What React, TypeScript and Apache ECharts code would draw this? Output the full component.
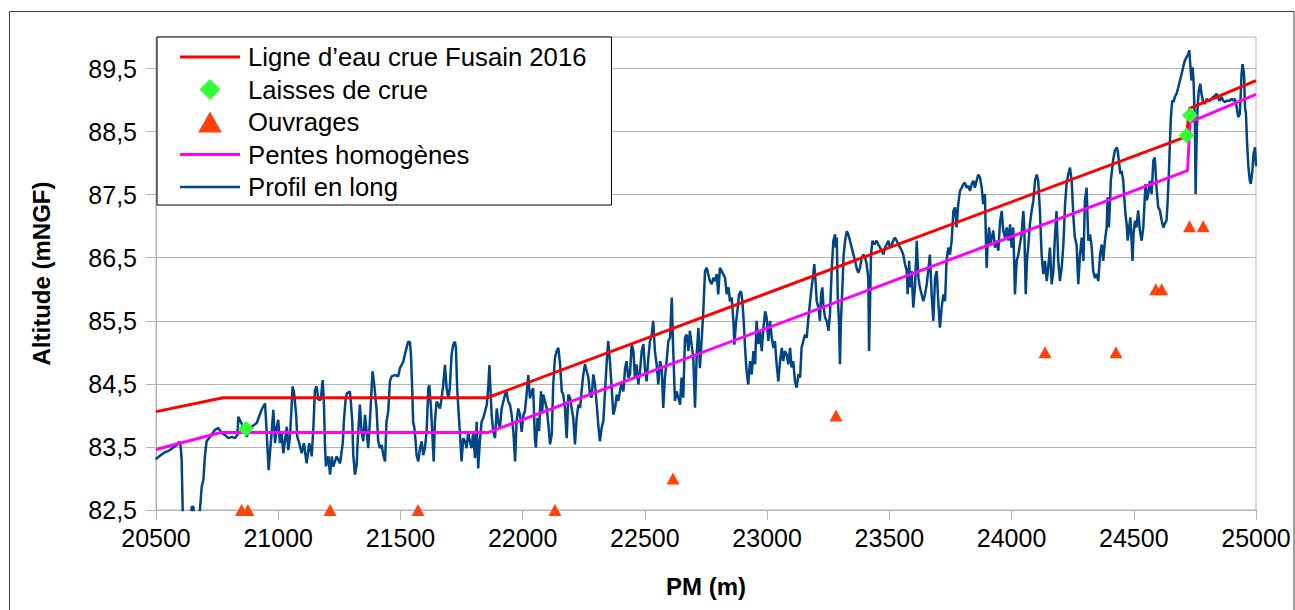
import React, { useEffect, useRef } from "react";
import * as echarts from "echarts";

const FONT = "'Liberation Sans', Arial, sans-serif";

// Ligne d'eau crue Fusain 2016
const redPM = [20500, 20775, 21855, 24715, 24728, 25000];
const redZ = [84.06, 84.28, 84.28, 88.42, 88.87, 89.31];

// Pentes homogènes
const magPM = [20500, 20765, 21860, 24720, 24730, 25000];
const magZ = [83.46, 83.73, 83.73, 87.88, 88.65, 89.09];

// Laisses de crue
const laissePM = [20868, 24716, 24730];
const laisseZ = [83.79, 88.44, 88.76];

// Ouvrages
const ouvPM = [20850, 20876, 21212, 21572, 22132, 22615, 23282, 24137, 24427, 24590, 24614, 24728, 24784];
const ouvZ = [82.5, 82.5, 82.5, 82.5, 82.5, 83.0, 84.0, 85.0, 85.0, 86.0, 86.0, 87.0, 87.0];

// Profil en long
const profilePM = [
  20500, 20503, 20530, 20557, 20585, 20595, 20601, 20605, 20609, 20612, 20625, 20640, 20646, 20653, 20660, 20677, 20683, 20687, 20694, 20700,
  20707, 20721, 20741, 20755, 20769, 20782, 20796, 20810, 20823, 20833, 20837, 20846, 20857, 20871, 20878, 20885, 20912, 20932, 20946, 20950,
  20955, 20961, 20966, 20973, 20980, 20987, 20994, 21000, 21007, 21014, 21021, 21028, 21035, 21041, 21048, 21059, 21065, 21073, 21078, 21086,
  21096, 21105, 21116, 21127, 21137, 21144, 21150, 21157, 21164, 21174, 21182, 21187, 21191, 21195, 21205, 21212, 21219, 21225, 21239, 21253,
  21264, 21269,
  21276, 21281, 21293, 21297, 21303, 21307, 21314, 21321, 21325, 21330, 21334, 21341, 21348, 21355, 21362, 21368, 21375, 21382, 21386, 21393,
  21402, 21409, 21416, 21423, 21430, 21437, 21443, 21450, 21457, 21464, 21477, 21491, 21498, 21505, 21512, 21518, 21525, 21532, 21539, 21543,
  21548, 21552, 21557, 21562, 21566, 21573, 21580, 21587, 21593, 21600, 21607, 21614, 21618, 21625, 21630, 21636, 21641, 21648, 21655, 21662,
  21668, 21675, 21682, 21689, 21696, 21702, 21709, 21716, 21723, 21727, 21732, 21737, 21743, 21750, 21757, 21764, 21771, 21777, 21784, 21791,
  21798, 21805, 21812, 21818, 21825, 21832, 21839, 21846, 21853, 21859, 21864, 21868, 21873, 21880, 21887, 21894, 21900, 21907, 21914, 21921,
  21928, 21934, 21941, 21948, 21955, 21962, 21969, 21975, 21982, 21989, 21996, 22003, 22009, 22016, 22023, 22030, 22037, 22043,
  22050, 22054, 22061, 22067, 22075, 22080, 22084, 22091, 22098, 22105, 22112, 22119, 22125, 22132, 22139, 22146, 22153, 22160, 22166, 22173,
  22180, 22187, 22194, 22200, 22207, 22214, 22221, 22228, 22235, 22241, 22248, 22255, 22262, 22269, 22275, 22282, 22289, 22296, 22303, 22309,
  22316, 22323, 22330, 22337, 22344, 22350, 22357, 22364, 22371, 22378, 22385, 22391, 22398, 22405, 22412, 22419, 22425, 22432, 22439, 22446,
  22453, 22459, 22466, 22473, 22480, 22487, 22494, 22500, 22507, 22514, 22521, 22528, 22534, 22541, 22548, 22555, 22562, 22569, 22575, 22582,
  22589, 22596, 22603, 22610, 22616, 22623, 22630, 22637, 22644, 22650, 22657, 22664, 22671, 22678, 22684, 22691, 22698, 22705, 22712, 22719,
  22725, 22732, 22739, 22746, 22753, 22759, 22766, 22773, 22780, 22787, 22794, 22800, 22807, 22814, 22828,
  22835, 22842, 22848, 22855, 22862, 22866, 22872, 22880, 22885, 22893, 22899, 22904, 22910, 22914, 22919, 22923, 22930, 22937, 22944, 22951,
  22957, 22964, 22971, 22978, 22985, 22992, 22998, 23005, 23012, 23019, 23026, 23032, 23039, 23046, 23053, 23060, 23066, 23073, 23080, 23087,
  23094, 23100, 23107, 23114, 23121, 23128, 23135, 23141, 23148, 23155, 23162, 23169, 23176, 23182, 23189, 23193, 23199, 23203, 23210, 23216,
  23221, 23226, 23230, 23237, 23244, 23251, 23257, 23264, 23271, 23278, 23281, 23285, 23289, 23294, 23298, 23302, 23308, 23313, 23319, 23326,
  23332, 23339, 23346, 23353, 23360, 23366, 23373, 23380, 23387, 23394, 23401, 23407, 23414, 23417, 23421, 23425, 23431, 23439, 23448, 23455,
  23462, 23469, 23476, 23482, 23489, 23496, 23503, 23510, 23516, 23523, 23530, 23537, 23544, 23551, 23557, 23564, 23571, 23575, 23581, 23585,
  23591, 23598, 23605,
  23612, 23619, 23625, 23632, 23639, 23646, 23653, 23659, 23666, 23673, 23680, 23687, 23694, 23700, 23707, 23714, 23721, 23728, 23734, 23741,
  23748, 23755, 23762, 23769, 23775, 23782, 23789, 23796, 23803, 23809, 23816, 23823, 23830, 23837, 23844, 23850, 23857, 23864, 23871, 23878,
  23884, 23891, 23895, 23898, 23902, 23908, 23913, 23919, 23925, 23932, 23939, 23946, 23953, 23960, 23966, 23973, 23980, 23987, 23994, 24000,
  24007, 24014, 24021, 24028, 24034, 24041, 24048, 24052, 24058, 24063, 24069, 24075, 24082, 24089, 24096, 24103, 24109, 24116, 24123, 24130,
  24137, 24144, 24150, 24157, 24164, 24171, 24178, 24184, 24191, 24198, 24205, 24212, 24219, 24225, 24232, 24239, 24246, 24253, 24259, 24266,
  24273, 24280, 24287, 24294, 24300, 24307, 24314, 24321, 24328, 24334, 24341, 24348, 24355, 24362, 24369, 24375, 24382,
  24389, 24393, 24398, 24402, 24406, 24412, 24417, 24423, 24430, 24434, 24439, 24445, 24450, 24457, 24461, 24466, 24471, 24475, 24480, 24486,
  24491, 24495, 24499, 24505, 24511, 24518, 24525, 24532, 24539, 24543, 24548, 24554, 24559, 24566, 24573, 24580, 24586, 24593, 24600, 24607,
  24614, 24621, 24627, 24634, 24638, 24644, 24648, 24652, 24657, 24663, 24668, 24675, 24682, 24689, 24696, 24702, 24709, 24716, 24723, 24727,
  24732, 24736, 24741, 24745, 24750, 24753, 24757, 24761, 24766, 24772, 24777, 24784, 24791, 24798, 24805, 24811, 24818, 24825, 24832, 24839,
  24846, 24852, 24859, 24866, 24873, 24880, 24887, 24893, 24900, 24907, 24914, 24921, 24927, 24934, 24941, 24945, 24951, 24955, 24959, 24963,
  24969, 24975, 24979, 24985, 24990, 24996, 25000,
];
const profileZ = [
  83.30, 83.32, 83.40, 83.45, 83.53, 83.58, 83.51, 83.29, 82.53, 82.30, 82.00, 82.10, 82.55, 82.55, 82.20, 82.39, 82.66, 82.87, 82.98, 83.35,
  83.59, 83.66, 83.77, 83.80, 83.72, 83.69, 83.64, 83.66, 83.64, 83.69, 83.98, 83.90, 83.82, 83.66, 83.74, 83.80, 83.88, 84.09, 84.19, 83.93,
  83.56, 83.13, 83.40, 83.72, 84.09, 83.56, 83.82, 83.93, 83.56, 83.72, 83.40, 83.61, 83.82, 83.45, 83.66, 84.46, 84.35, 84.03, 83.66, 83.56,
  83.40, 83.56, 83.24, 83.56, 83.35, 83.82, 84.40, 84.46, 84.25, 84.25, 84.56, 84.19, 83.56, 83.19, 83.35, 83.06, 83.35, 83.19, 83.35, 83.24,
  83.56, 83.93,
  84.27, 84.35, 84.38, 84.22, 83.90, 83.37, 83.06, 83.22, 83.59, 83.90, 84.17, 83.74, 83.59, 84.01, 83.74, 83.48, 83.90, 84.43, 84.70, 84.48,
  84.11, 83.59, 83.48, 83.53, 83.37, 83.27, 83.90, 84.06, 84.54, 84.62, 84.64, 84.62, 84.75, 84.80, 84.86, 84.96, 85.07, 85.17, 85.16, 84.96,
  84.43, 83.90, 83.80, 83.59, 83.37, 83.27, 83.48, 83.59, 83.37, 83.48, 83.74, 84.43, 84.48, 84.11, 83.74, 83.27, 83.90, 84.22, 84.17, 84.11,
  84.27, 84.48, 84.80, 84.43, 84.27, 84.43, 84.96, 85.12, 85.17, 85.07, 84.43, 84.11, 83.74, 83.27, 83.64, 83.59, 83.48, 83.74, 83.59, 83.48,
  83.74, 83.32, 83.90, 83.16, 83.59, 83.90, 83.96, 84.06, 84.17, 84.43, 84.80, 84.43, 84.01, 83.74, 83.64, 84.11, 83.90, 83.80, 84.11, 84.22,
  84.33, 84.38, 84.22, 84.17, 84.01, 83.74, 83.27, 83.90, 84.11, 84.01, 83.74, 84.01, 84.06, 84.33, 84.64, 84.27, 84.38, 84.43,
  83.64, 83.49, 83.96, 83.75, 84.38, 84.07, 84.33, 84.23, 84.12, 83.86, 83.54, 83.70, 84.49, 84.91, 85.02, 85.07, 84.81, 84.38, 84.33, 84.12,
  83.64, 84.33, 84.28, 84.12, 83.96, 83.54, 83.96, 84.17, 84.12, 84.38, 84.65, 84.81, 84.70, 84.60, 84.33, 84.28, 84.65, 84.49, 84.17, 83.86,
  83.59, 83.80, 83.91, 84.38, 84.86, 85.18, 84.86, 84.44, 84.01, 84.12, 84.33, 84.23, 84.38, 84.54, 84.38, 84.75, 84.86, 84.60, 84.65, 85.13,
  85.02, 84.60, 84.81, 84.49, 84.70, 85.02, 85.13, 84.75, 84.54, 84.91, 85.18, 85.28, 85.50, 85.02, 84.81, 84.49, 84.86, 84.75, 84.12, 84.60,
  84.86, 85.18, 85.23, 85.87, 85.02, 84.23, 84.38, 84.28, 84.17, 84.60, 84.28, 85.23, 85.28, 85.02, 85.34, 85.13, 84.91, 84.12, 84.97, 85.39,
  84.75, 85.18, 85.65, 86.29, 86.34, 86.24, 86.13, 86.08, 86.18, 86.13, 86.24, 85.92, 86.34, 86.29, 86.18,
  85.92, 86.03, 85.81, 85.87, 85.50, 85.12, 85.44, 85.71, 85.92, 85.97, 85.81, 85.50, 85.07, 84.81, 84.60, 84.49, 84.86, 84.65, 85.02, 84.81,
  85.50, 85.13, 85.34, 85.02, 85.39, 85.65, 85.55, 85.18, 85.50, 85.23, 85.07, 85.18, 84.81, 84.54, 84.86, 85.07, 84.86, 85.02, 84.97, 84.81,
  85.07, 84.76, 84.86, 84.54, 84.44, 84.65, 84.60, 85.07, 85.18, 85.28, 85.23, 85.55, 85.81, 86.03, 86.24, 86.40, 86.08, 85.81, 85.71, 85.50,
  85.92, 86.03, 85.76, 85.55, 85.50, 85.34, 85.60, 86.29, 86.77, 86.87, 86.66, 86.82, 85.87, 85.50, 84.81, 85.50, 86.03, 86.55, 86.77, 86.92,
  86.87, 86.77, 86.66, 86.55, 86.45, 86.34, 86.26, 86.34, 86.50, 86.55, 86.50, 86.40, 86.18, 85.02, 85.76, 86.55, 86.77, 86.71, 86.77, 86.71,
  86.66, 86.61, 86.55, 86.66, 86.71, 86.77, 86.66, 86.71, 86.77, 86.82, 86.77, 86.71, 86.66, 86.61, 86.55, 86.40, 86.29, 85.92, 86.45, 86.03,
  86.29, 85.71, 86.03,
  86.77, 86.18, 86.03, 85.92, 85.81, 85.92, 86.08, 86.29, 86.55, 85.92, 85.50, 86.18, 86.29, 85.81, 85.39, 85.71, 85.92, 85.81, 86.45, 86.66,
  86.55, 86.77, 87.24, 87.30, 86.98, 87.35, 87.56, 87.61, 87.67, 87.69, 87.61, 87.64, 87.56, 87.67, 87.72, 87.61, 87.72, 87.82, 87.77, 87.61,
  87.35, 87.51, 86.82, 86.34, 86.71, 86.98, 86.71, 86.82, 86.93, 86.66, 86.77, 86.61, 87.08, 87.24, 86.93, 86.82, 86.98, 86.77, 87.03, 86.66,
  86.98, 85.92, 86.45, 86.55, 86.71, 86.87, 87.24, 86.98, 85.92, 86.45, 86.71, 87.03, 87.24, 87.40, 87.72, 87.82, 87.72, 87.24, 86.55, 86.24,
  86.45, 86.13, 86.34, 86.66, 86.08, 86.29, 86.87, 87.24, 86.45, 86.13, 86.34, 86.71, 87.35, 87.67, 87.82, 87.93, 87.72, 87.14, 86.82, 86.71,
  86.08, 86.55, 86.82, 86.45, 87.40, 87.61, 86.77, 86.87, 86.66, 86.29, 86.18, 86.24, 86.13, 86.55, 86.71, 86.45, 86.77,
  86.98, 87.46, 86.98, 87.30, 87.72, 87.93, 88.09, 88.20, 88.25, 88.20, 88.04, 87.83, 87.88, 87.72, 87.46, 87.19, 87.03, 86.77, 86.93, 87.14,
  86.77, 86.45, 86.88, 87.09, 86.98, 87.25, 86.93, 86.77, 86.98, 87.30, 87.67, 87.41, 87.51, 87.72, 87.51, 88.04, 88.09, 87.62, 87.30, 87.25,
  87.09, 86.98, 87.04, 87.09, 87.35, 87.88, 88.36, 88.73, 88.99, 88.97, 89.05, 89.10, 89.20, 89.31, 89.42, 89.52, 89.63, 89.68, 89.73, 89.79,
  89.52, 89.31, 89.52, 89.26, 88.62, 87.51, 88.36, 88.89, 89.15, 89.26, 89.10, 88.97, 88.94, 89.02, 88.99, 88.99, 89.02, 89.05, 89.07, 89.10,
  89.02, 88.99, 89.05, 88.99, 88.97, 88.99, 88.99, 88.99, 89.02, 88.99, 89.02, 88.89, 88.73, 88.78, 89.42, 89.57, 89.42, 88.89, 88.78, 88.36,
  87.93, 87.72, 87.67, 87.88, 88.15, 88.25, 87.95,
];

const yTicks = [82.5, 83.5, 84.5, 85.5, 86.5, 87.5, 88.5, 89.5];

const zip = (xs: number[], ys: number[]) => xs.map((x, i) => [x, ys[i]]);

const lineIcon = (h: number) => `path://M0,0L60,0L60,${h}L0,${h}Z`;
const diamondIcon = "path://M8,0L16,8L8,16L0,8Z";
const triangleIcon = "path://M8.5,0L17,15L0,15Z";

export default function App() {
  const ref = useRef<HTMLDivElement>(null);
  useEffect(() => {
    document.body.style.margin = "0";
    const chart = echarts.init(ref.current!, undefined, { renderer: "svg" });
    const gray = "#b3b3b3";
    chart.setOption({
      animation: false,
      backgroundColor: "#ffffff",
      textStyle: { fontFamily: FONT },
      graphic: [
        {
          type: "rect",
          silent: true,
          z: -10,
          shape: { x: 9.5, y: 11.5, width: 1284.5, height: 640 },
          style: { fill: "none", stroke: "#3c3c3c", lineWidth: 1 },
        },
      ],
      grid: {
        left: 156,
        top: 37,
        width: 1100,
        height: 473,
        show: true,
        borderColor: gray,
        borderWidth: 1,
        outerBoundsMode: "none",
      },
      legend: {
        orient: "vertical",
        left: 157,
        top: 37,
        padding: [7, 25, 5, 23],
        itemGap: 6.5,
        itemWidth: 60,
        itemHeight: 21,
        symbolKeepAspect: true,
        backgroundColor: "#ffffff",
        borderColor: "#000000",
        borderWidth: 1,
        borderRadius: 0,
        z: 10,
        itemStyle: { opacity: 1 },
        textStyle: { fontSize: 25.7, color: "#000", fontFamily: FONT, padding: [0, 0, 0, 3] },
        data: [
          { name: "Ligne d\u2019eau crue Fusain 2016", icon: lineIcon(3) },
          { name: "Laisses de crue", icon: diamondIcon },
          { name: "Ouvrages", icon: triangleIcon },
          { name: "Pentes homog\u00e8nes", icon: lineIcon(3) },
          { name: "Profil en long", icon: lineIcon(2.5) },
        ],
      },
      xAxis: {
        type: "value",
        min: 20500,
        max: 25000,
        interval: 500,
        name: "PM (m)",
        nameLocation: "middle",
        nameGap: 64,
        nameTextStyle: { fontSize: 24, fontWeight: "bold", color: "#000", fontFamily: FONT },
        axisLine: { show: true, lineStyle: { color: gray } },
        axisTick: { show: true, length: 10, lineStyle: { color: gray } },
        axisLabel: { fontSize: 25, color: "#000", margin: 15, fontFamily: FONT, formatter: (v: number) => String(v) },
        splitLine: { show: false },
      },
      yAxis: {
        type: "value",
        min: 82.5,
        max: 90,
        interval: 0.5,
        name: "Altitude (mNGF)",
        nameLocation: "middle",
        nameGap: 103,
        nameTextStyle: { fontSize: 24, fontWeight: "bold", color: "#000", fontFamily: FONT },
        axisLine: { show: true, lineStyle: { color: gray } },
        axisTick: { show: true, length: 10, lineStyle: { color: gray }, customValues: yTicks },
        axisLabel: {
          fontSize: 25,
          color: "#000",
          margin: 19,
          fontFamily: FONT,
          customValues: yTicks,
          formatter: (v: number) => v.toFixed(1).replace(".", ","),
        },
        splitLine: { show: true, lineStyle: { color: gray, width: 1 } },
      },
      series: [
        {
          name: "Ligne d\u2019eau crue Fusain 2016",
          type: "line",
          data: zip(redPM, redZ),
          symbol: "none",
          lineStyle: { color: "#ff0000", width: 3 },
          itemStyle: { color: "#ff0000" },
          z: 5,
        },
        {
          name: "Laisses de crue",
          type: "scatter",
          data: zip(laissePM, laisseZ),
          symbol: "diamond",
          symbolSize: 16,
          clip: false,
          itemStyle: { color: "#33ff33", opacity: 1 },
          z: 6,
        },
        {
          name: "Ouvrages",
          type: "scatter",
          data: zip(ouvPM, ouvZ),
          symbol: "triangle",
          symbolSize: [13, 12],
          clip: false,
          itemStyle: { color: "#ff420e", opacity: 1 },
          z: 6,
        },
        {
          name: "Pentes homog\u00e8nes",
          type: "line",
          data: zip(magPM, magZ),
          symbol: "none",
          lineStyle: { color: "#ff00ff", width: 3 },
          itemStyle: { color: "#ff00ff" },
          z: 4,
        },
        {
          name: "Profil en long",
          type: "line",
          data: zip(profilePM, profileZ),
          symbol: "none",
          lineStyle: { color: "#004586", width: 2.5 },
          itemStyle: { color: "#004586" },
          z: 3,
        },
      ],
    });
    return () => chart.dispose();
  }, []);
  return <div ref={ref} style={{ width: 1295, height: 610 }} />;
}
